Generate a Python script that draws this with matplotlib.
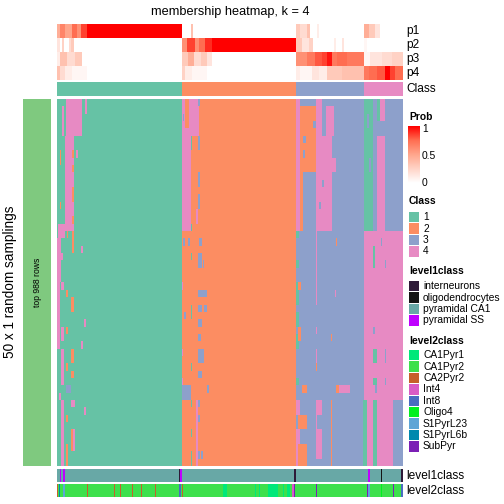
import numpy as np
import matplotlib
matplotlib.use("Agg")
import matplotlib.pyplot as plt
from matplotlib.colors import ListedColormap, LinearSegmentedColormap
from matplotlib.patches import Rectangle

plt.rcParams['font.family'] = ['Liberation Sans', 'DejaVu Sans']

# ---------------- data ----------------
n_samples = 346
n_rows = 50

# consensus class blocks: (first sample, end sample, class)
class_blocks = [(0, 125, 1), (125, 239, 2), (239, 307, 3), (307, 346, 4)]

# membership probability segments (start, end, prob); rest = 0
p1_segs = [(0, 3, 0.45), (3, 8, 0.65), (8, 15, 0.5), (15, 20, 0.75), (20, 24, 0.6), (24, 30, 0.85),
           (30, 125, 1.0), (134, 136, 0.35), (239, 243, 0.3), (243, 250, 0.2), (250, 253, 0.35),
           (260, 262, 0.1), (307, 312, 0.45), (312, 318, 0.3), (318, 323, 0.15)]
p2_segs = [(0, 3, 0.15), (5, 7, 0.25), (12, 14, 0.2), (14, 17, 0.3), (125, 130, 0.6), (130, 138, 0.85),
           (138, 142, 0.6), (142, 148, 0.75), (148, 155, 0.9), (155, 239, 1.0), (239, 245, 0.3),
           (245, 252, 0.15), (252, 256, 0.25), (277, 279, 0.1), (285, 287, 0.15), (307, 310, 0.05)]
p3_segs = [(0, 3, 0.1), (3, 10, 0.35), (10, 18, 0.2), (18, 25, 0.3), (125, 131, 0.3), (131, 137, 0.45),
           (137, 144, 0.2), (144, 150, 0.3), (150, 155, 0.15), (239, 250, 0.6), (250, 258, 0.7),
           (258, 265, 0.8), (265, 270, 0.85), (270, 275, 0.95), (275, 280, 0.7), (280, 290, 0.75),
           (290, 307, 0.7), (307, 313, 0.05), (313, 325, 0.15), (325, 335, 0.2), (335, 346, 0.25)]
p4_segs = [(0, 3, 0.35), (3, 8, 0.2), (8, 15, 0.1), (15, 30, 0.05), (125, 128, 0.25), (128, 135, 0.1),
           (135, 150, 0.05), (239, 243, 0.1), (243, 255, 0.05), (255, 262, 0.15), (262, 270, 0.1),
           (270, 285, 0.3), (285, 307, 0.35), (307, 312, 0.7), (312, 320, 0.75), (320, 328, 0.8),
           (328, 333, 1.0), (333, 338, 0.85), (338, 346, 0.75)]

# class per sampling that differs from consensus: (row0, row1, sample0, sample1, class)
membership_changes = [
    # class 1 block
    (0, 5, 9, 25, 4), (0, 2, 28, 30, 4), (5, 18, 8, 17, 4), (1, 5, 5, 7, 4),
    (7, 8, 15, 17, 2), (7, 8, 19, 21, 4), (9, 10, 15, 17, 2), (12, 14, 15, 17, 2),
    (16, 17, 15, 17, 2), (7, 9, 3, 4, 2), (14, 15, 3, 4, 2), (17, 19, 1, 8, 4),
    (18, 19, 10, 11, 2), (18, 21, 15, 17, 2), (19, 25, 0, 4, 4), (20, 21, 24, 26, 4),
    (21, 22, 4, 6, 4), (25, 34, 0, 3, 4), (25, 26, 4, 7, 4), (26, 27, 9, 11, 2),
    (27, 29, 14, 17, 2), (31, 33, 4, 7, 4), (31, 32, 9, 11, 2), (34, 39, 4, 7, 4),
    (34, 36, 14, 17, 2), (36, 37, 9, 11, 2), (37, 38, 14, 17, 2), (33, 34, 24, 26, 4),
    (30, 31, 27, 29, 4), (39, 40, 9, 14, 3), (40, 41, 2, 4, 4), (41, 50, 4, 7, 4),
    (41, 42, 14, 18, 4), (43, 44, 9, 11, 2), (45, 48, 14, 16, 2), (45, 48, 16, 18, 4),
    (47, 50, 9, 11, 2), (42, 43, 27, 29, 4),
    # class 2 block
    (0, 5, 125, 142, 4), (0, 4, 128, 132, 2), (5, 18, 125, 134, 4), (0, 1, 141, 143, 3),
    (5, 7, 141, 143, 3), (10, 12, 141, 143, 3), (13, 15, 141, 143, 3), (2, 3, 126, 127, 3),
    (5, 7, 134, 135, 1), (17, 18, 134, 135, 1), (15, 17, 139, 141, 4), (19, 20, 126, 128, 3),
    (19, 20, 131, 133, 3), (19, 20, 142, 145, 3), (21, 23, 141, 145, 3), (22, 23, 146, 147, 3),
    (21, 22, 134, 135, 1), (26, 27, 141, 150, 3), (28, 29, 141, 145, 3), (28, 29, 147, 150, 3),
    (30, 31, 141, 145, 3), (32, 33, 141, 144, 3), (34, 36, 141, 147, 3), (37, 38, 141, 145, 3),
    (29, 30, 127, 129, 3), (39, 41, 125, 134, 3), (39, 40, 150, 152, 3), (41, 50, 139, 141, 4),
    (41, 42, 141, 143, 3), (43, 44, 141, 143, 3), (48, 49, 141, 143, 3), (48, 49, 144, 146, 3),
    (28, 30, 134, 135, 1), (36, 37, 134, 135, 1), (41, 42, 134, 135, 1), (45, 46, 134, 135, 1),
    (48, 50, 134, 135, 1), (25, 26, 125, 126, 4), (34, 35, 125, 126, 4), (38, 39, 125, 126, 4),
    # class 3 block
    (0, 18, 239, 243, 4), (1, 15, 243, 259, 2), (0, 1, 245, 249, 3), (3, 4, 256, 259, 3),
    (5, 6, 246, 249, 3), (7, 8, 246, 248, 3), (10, 18, 246, 259, 3), (15, 18, 243, 246, 2),
    (0, 18, 259, 265, 4), (1, 5, 269, 277, 4), (5, 18, 259, 275, 4), (8, 10, 259, 279, 4),
    (11, 12, 265, 267, 3), (14, 15, 262, 264, 3),
    (18, 19, 239, 242, 1), (22, 23, 239, 242, 1), (19, 20, 279, 280, 2), (18, 25, 259, 260, 4),
    (25, 28, 239, 242, 1), (29, 31, 239, 242, 1), (32, 34, 239, 242, 1), (38, 39, 239, 242, 1),
    (25, 26, 241, 244, 2), (31, 33, 241, 244, 2), (39, 40, 245, 250, 2), (39, 40, 279, 282, 2),
    (39, 40, 282, 293, 4), (25, 28, 259, 260, 4), (31, 32, 259, 260, 4), (34, 36, 259, 260, 4),
    (36, 37, 259, 260, 2), (32, 33, 274, 275, 2), (26, 27, 278, 279, 4),
    (41, 43, 239, 243, 4), (45, 50, 239, 243, 4), (43, 45, 241, 250, 2), (47, 50, 241, 250, 2),
    (41, 43, 259, 265, 4), (45, 49, 259, 265, 4), (43, 45, 259, 260, 4), (41, 50, 274, 275, 2),
    # class 4 block
    (0, 18, 307, 346, 3), (0, 18, 307, 316, 1), (0, 3, 320, 323, 1), (2, 4, 310, 312, 3),
    (8, 10, 312, 314, 3), (0, 1, 323, 328, 4), (1, 3, 323, 328, 4), (5, 18, 320, 328, 4),
    (20, 23, 316, 318, 1), (19, 20, 324, 325, 3), (22, 23, 328, 329, 3), (31, 32, 316, 318, 3),
    (34, 36, 316, 320, 1), (38, 39, 316, 320, 1), (39, 40, 318, 320, 3), (34, 36, 328, 329, 3),
    (38, 39, 328, 329, 3),
    (41, 50, 306, 310, 1), (41, 50, 316, 320, 1), (41, 50, 336, 346, 3),
]

level1_names = ['interneurons', 'oligodendrocytes', 'pyramidal CA1', 'pyramidal SS']
level1_colors = ['#2E1A38', '#141414', '#68A8A6', '#BF00FF']
level1_default = 'pyramidal CA1'
level1_changes = [(3, 4, 'pyramidal SS'), (6, 8, 'pyramidal SS'), (122, 123, 'interneurons'),
                  (123, 125, 'pyramidal SS'), (237, 239, 'interneurons'), (311, 313, 'pyramidal SS'),
                  (324, 325, 'oligodendrocytes'), (344, 346, 'interneurons')]

level2_names = ['CA1Pyr1', 'CA1Pyr2', 'CA2Pyr2', 'Int4', 'Int8', 'Oligo4', 'S1PyrL23', 'S1PyrL6b', 'SubPyr']
level2_colors = ['#00E87A', '#3DE04C', '#C6602A', '#D95BC5', '#4A6CC0', '#00F020', '#5EA5D6', '#0089AE', '#7B1FB5']
level2_default = 'CA1Pyr2'
level2_changes = [(0, 1, 'CA2Pyr2'), (2, 3, 'S1PyrL6b'), (6, 8, 'S1PyrL23'), (30, 31, 'CA2Pyr2'),
                  (57, 58, 'CA2Pyr2'), (63, 64, 'CA2Pyr2'), (75, 76, 'CA2Pyr2'), (84, 85, 'CA2Pyr2'),
                  (98, 99, 'CA2Pyr2'), (122, 124, 'Int8'), (125, 126, 'CA2Pyr2'), (166, 170, 'CA1Pyr1'),
                  (198, 199, 'CA1Pyr1'), (202, 203, 'CA1Pyr1'), (211, 221, 'CA1Pyr1'), (226, 227, 'CA1Pyr1'),
                  (230, 233, 'CA1Pyr1'), (235, 237, 'Int4'), (237, 238, 'SubPyr'), (259, 260, 'SubPyr'),
                  (310, 311, 'SubPyr'), (311, 313, 'S1PyrL23'), (324, 325, 'Oligo4'), (336, 337, 'SubPyr'),
                  (344, 346, 'Int8')]

class_labels = ['1', '2', '3', '4']
class_colors = ['#66C2A5', '#FC8D62', '#8DA0CB', '#E78AC3']

# ---------------- build matrices ----------------
consensus = np.zeros(n_samples, dtype=int)
for s0, s1, c in class_blocks:
    consensus[s0:s1] = c

probs = np.zeros((4, n_samples))
for i, segs in enumerate([p1_segs, p2_segs, p3_segs, p4_segs]):
    for s0, s1, v in segs:
        probs[i, s0:s1] = v

member = np.tile(consensus, (n_rows, 1))
for r0, r1, s0, s1, c in membership_changes:
    member[r0:r1, s0:s1] = c

lev1 = np.full(n_samples, level1_names.index(level1_default))
for s0, s1, nm in level1_changes:
    lev1[s0:s1] = level1_names.index(nm)
lev2 = np.full(n_samples, level2_names.index(level2_default))
for s0, s1, nm in level2_changes:
    lev2[s0:s1] = level2_names.index(nm)

# ---------------- plotting ----------------
W = H = 504
fig = plt.figure(figsize=(5.04, 5.04), dpi=100)


def px_axes(x0, y0, x1, y1):
    ax = fig.add_axes([x0 / W, 1 - y1 / H, (x1 - x0) / W, (y1 - y0) / H])
    ax.set_axis_off()
    return ax


# white -> red, roughly as a LAB ramp
prob_cmap = LinearSegmentedColormap.from_list(
    'prob', ['#FFFFFF', '#FFD3C6', '#FFA68C', '#FF6F52', '#FF0000'])
class_cmap = ListedColormap(class_colors)
lx0, lx1 = 57, 403

p_tops = [24, 38, 52, 66]
for i in range(4):
    ax = px_axes(lx0, p_tops[i], lx1, p_tops[i] + 14)
    ax.imshow(probs[i:i + 1], cmap=prob_cmap, vmin=0, vmax=1, aspect='auto', interpolation='nearest')

ax = px_axes(lx0, 82, lx1, 96)
ax.imshow(consensus[None, :] - 1, cmap=class_cmap, vmin=-0.5, vmax=3.5, aspect='auto', interpolation='nearest')

ax = px_axes(lx0, 99, lx1, 466)
ax.imshow(member - 1, cmap=class_cmap, vmin=-0.5, vmax=3.5, aspect='auto', interpolation='nearest')

ax = px_axes(lx0, 469, lx1, 482)
ax.imshow(lev1[None, :], cmap=ListedColormap(level1_colors), vmin=-0.5, vmax=len(level1_names) - 0.5,
          aspect='auto', interpolation='nearest')
ax = px_axes(lx0, 484, lx1, 497)
ax.imshow(lev2[None, :], cmap=ListedColormap(level2_colors), vmin=-0.5, vmax=len(level2_names) - 0.5,
          aspect='auto', interpolation='nearest')

# overlay in pixel coordinates for labels and legends
lay = fig.add_axes([0, 0, 1, 1], facecolor='none')
lay.set_xlim(0, W)
lay.set_ylim(H, 0)
lay.set_axis_off()

lay.text(230, 12, 'membership heatmap, k = 4', ha='center', va='center', fontsize=9.2)
for i, lab in enumerate(['p1', 'p2', 'p3', 'p4']):
    lay.text(406, p_tops[i] + 7, lab, ha='left', va='center', fontsize=8.6)
lay.text(406, 89, 'Class', ha='left', va='center', fontsize=8.6)
lay.text(406, 476, 'level1class', ha='left', va='center', fontsize=8.6)
lay.text(406, 491, 'level2class', ha='left', va='center', fontsize=8.6)

# left side
lay.add_patch(Rectangle((23, 99), 28, 367, facecolor='#7FC97F', edgecolor='none'))
lay.text(37, 282, 'top 988 rows', rotation=90, ha='center', va='center', fontsize=6.2)
lay.text(10, 282, '50 x 1 random samplings', rotation=90, ha='center', va='center', fontsize=9.8)

# Prob legend
lay.text(409, 117, 'Prob', ha='left', va='center', fontsize=7.4, fontweight='bold')
cax = px_axes(408, 126, 420, 183)
cax.imshow(np.linspace(1, 0, 100)[:, None], cmap=prob_cmap, vmin=0, vmax=1, aspect='auto')
for v, lab in [(1, '1'), (0.5, '0.5'), (0, '0')]:
    yy = 183 - v * 54
    lay.text(422, yy, lab, ha='left', va='center', fontsize=7.4)
    if v > 0:
        lay.plot([408, 410], [yy, yy], color='white', lw=0.8)
        lay.plot([418, 420], [yy, yy], color='white', lw=0.8)


def legend_block(title, y_title, y_first, names, colors):
    lay.text(409, y_title, title, ha='left', va='center', fontsize=7.4, fontweight='bold')
    for k, (nm, col) in enumerate(zip(names, colors)):
        y0 = y_first + k * 11.4
        lay.add_patch(Rectangle((409, y0), 10, 10.4, facecolor=col, edgecolor='none'))
        lay.text(423, y0 + 5.2, nm, ha='left', va='center', fontsize=7.4)


legend_block('Class', 201, 212, class_labels, class_colors)
legend_block('level1class', 271, 281, level1_names, level1_colors)
legend_block('level2class', 341, 350, level2_names, level2_colors)

fig.savefig('out.png', dpi=100)
